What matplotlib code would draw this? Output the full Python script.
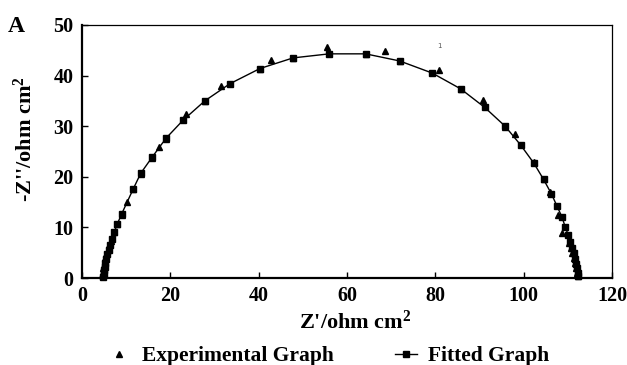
import matplotlib
matplotlib.use("Agg")
import matplotlib.pyplot as plt
from matplotlib.lines import Line2D

# Experimental data (triangles)
exp_x = [4.6, 4.7, 4.8, 4.9, 5.1, 5.3, 5.5, 5.8, 6.1, 6.5, 7.3, 8.0, 9.0, 10.1, 11.5, 13.3,
         15.9, 17.4, 19.0, 23.5, 27.8, 31.4, 40.3, 42.9, 47.8, 55.4, 64.2, 68.7, 71.9, 80.8,
         85.7, 90.7, 95.8, 98.0, 102.3, 104.5, 106.0, 107.8, 108.7, 110.2, 110.7, 111.0,
         111.3, 111.6, 111.9, 112.1, 112.3]
exp_y = [0.5, 1.2, 1.9, 2.6, 3.3, 4.0, 4.8, 5.6, 6.5, 7.4, 9.0, 10.6, 12.5, 15.0, 17.5, 20.5,
         23.8, 25.8, 27.5, 32.4, 35.0, 38.0, 41.3, 43.1, 43.4, 45.7, 44.2, 44.8, 42.8, 41.2,
         37.3, 35.2, 29.8, 28.4, 23.0, 19.5, 17.0, 12.5, 8.9, 7.0, 6.0, 5.0,
         4.0, 3.0, 2.0, 1.0, 0.3]

# Fitted data (squares)
fit_x = [4.8, 4.9, 5.0, 5.1, 5.3, 5.5, 5.7, 6.0, 6.4, 6.8, 7.3, 8.0, 9.0, 11.6, 13.3, 15.9,
         19.0, 22.9, 27.8, 33.5, 40.3, 47.8, 56.0, 64.2, 71.9, 79.3, 85.7, 91.2, 95.8, 99.3,
         102.3, 104.5, 106.3, 107.5, 108.7, 109.4, 110.1, 110.6, 111.0, 111.4, 111.7, 111.9,
         112.1, 112.3, 112.4]
fit_y = [0.2, 0.8, 1.5, 2.2, 3.0, 3.8, 4.7, 5.6, 6.6, 7.7, 9.1, 10.7, 12.7, 17.6, 20.7, 23.9,
         27.6, 31.2, 35.0, 38.4, 41.4, 43.5, 44.3, 44.3, 42.9, 40.5, 37.4, 33.7, 30.0, 26.3,
         22.7, 19.5, 16.6, 14.3, 12.0, 10.1, 8.5, 7.2, 6.0, 4.9, 3.8, 2.8,
         1.9, 1.0, 0.3]

x_ticks = [0, 20, 40, 60, 80, 100, 120]
y_ticks = [0, 10, 20, 30, 40, 50]

plt.rcParams['font.family'] = ['Liberation Serif', 'DejaVu Serif']
plt.rcParams['font.weight'] = 'bold'
plt.rcParams['mathtext.fontset'] = 'custom'
plt.rcParams['mathtext.rm'] = 'Liberation Serif:bold'
plt.rcParams['mathtext.bf'] = 'Liberation Serif:bold'
plt.rcParams['mathtext.it'] = 'Liberation Serif:bold:italic'

fig = plt.figure(figsize=(6.27, 3.65), dpi=100)
ax = fig.add_axes([82/627, 1-278/365, (612-82)/627, (278-25)/365])

ax.plot(exp_x, exp_y, linestyle='none', marker='^', color='black', markersize=5, clip_on=False, zorder=3)
ax.plot(fit_x, fit_y, linestyle='-', linewidth=1, marker='s', color='black', markersize=5, clip_on=False, zorder=4)

ax.text(81, 45.8, '1', fontsize=5, color='#555555', ha='center', va='center', fontweight='normal',
        family=['DejaVu Sans'])

ax.set_xlim(0, 120)
ax.set_ylim(0, 50)
ax.set_xticks(x_ticks)
ax.set_yticks(y_ticks)
ax.tick_params(direction='in', length=4, width=1, labelsize=14.5, top=False, right=False, pad=6)
for lab in ax.get_xticklabels() + ax.get_yticklabels():
    lab.set_fontweight('bold')
ax.spines['left'].set_linewidth(1.6)
ax.spines['bottom'].set_linewidth(1.6)
ax.spines['top'].set_linewidth(0.9)
ax.spines['right'].set_linewidth(0.9)

ax.set_xlabel("Z'/ohm cm$^{\\mathbf{2}}$", fontsize=16, fontweight='bold')
ax.set_ylabel("-Z''/ohm cm$^{\\mathbf{2}}$", fontsize=16, fontweight='bold')
ax.xaxis.set_label_coords((355-82)/530, -33/253, transform=ax.transAxes)
ax.yaxis.set_label_coords(-0.085, (278-139)/253, transform=ax.transAxes)

fig.text(16/627, 1-27/365, 'A', fontsize=17, fontweight='bold', ha='center', va='center')

handles = [Line2D([], [], linestyle='none', marker='^', color='black', markersize=5),
           Line2D([], [], linestyle='-', linewidth=1, marker='s', color='black', markersize=5)]
fig.legend(handles, ['Experimental Graph', 'Fitted Graph'], loc='center', ncol=2,
           bbox_to_anchor=(329/627, 1-356/365), frameon=False,
           prop={'weight': 'bold', 'size': 15.5}, handlelength=1.0, handletextpad=0.55,
           columnspacing=2.85, borderpad=0.1)

fig.savefig('out.png', dpi=100)
